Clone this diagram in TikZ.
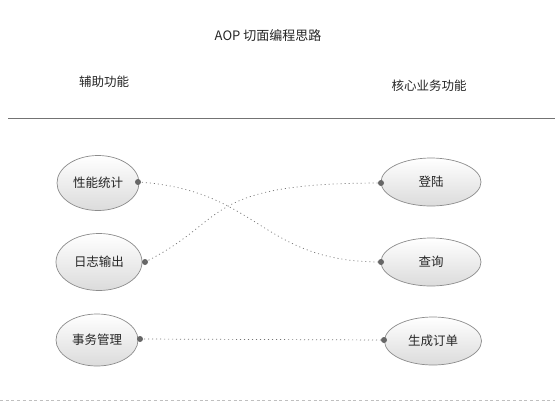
\documentclass[tikz,border=0pt]{standalone}
\usepackage{fontspec}
\newfontfamily\cjk{Noto Sans CJK SC}
\usetikzlibrary{shapes.geometric}
\begin{document}
\begin{tikzpicture}[x=1pt,y=-1pt,
  txt/.style={font=\cjk\fontsize{12.5}{14}\selectfont, text=black!85},
  uc/.style={ellipse, draw=black!45, line width=0.7pt, top color=white, bottom color=black!14, inner sep=0pt, font=\cjk\fontsize{12.5}{14}\selectfont, text=black!85},
  leftuc/.style={uc, minimum width=82pt, minimum height=55pt},
  rightuc/.style={uc, minimum width=100pt, minimum height=48pt},
  pin/.style={circle, fill=black!60, inner sep=0pt, minimum size=6pt},
  link/.style={draw=black!55, line width=0.7pt, dash pattern=on 1pt off 3pt}
]
\useasboundingbox (0,0) rectangle (555,408);
\fill[white] (0,0) rectangle (555,408);
\node[txt, font=\cjk\fontsize{13}{15}\selectfont] (title) at (268,36) {AOP 切面编程思路};
\node[txt] (hl) at (104,82) {辅助功能};
\node[txt] (hr) at (429,86) {核心业务功能};
\coordinate (sepl) at (8,118);
\coordinate (sepr) at (555,118);
\draw[black!55, line width=0.8pt] (sepl) -- (sepr);
\coordinate (botl) at (0,400);
\coordinate (botr) at (555,400);
\draw[black!25, line width=0.8pt, dash pattern=on 3pt off 2.7pt] (botl) -- (botr);

\node[leftuc] (a) at (98,183) {性能统计};
\node[leftuc, minimum width=86pt, minimum height=57pt] (b) at (99,262) {日志输出};
\node[leftuc, minimum height=52pt] (c) at (97,340) {事务管理};
\node[rightuc] (x) at (431,182) {登陆};
\node[rightuc] (y) at (431,262) {查询};
\node[rightuc, minimum width=97pt] (z) at (433,341) {生成订单};

\node[pin] (pa) at (138,182) {};
\node[pin] (pb) at (145,262) {};
\node[pin] (pc) at (140,339) {};
\node[pin] (px) at (381,183) {};
\node[pin] (py) at (381,262) {};
\node[pin] (pz) at (384,340) {};

\draw[link] (pa.center) .. controls (260,190) and (260,262) .. (py.center);
\draw[link] (pb.center) .. controls (230,220) and (200,183) .. (px.center);
\draw[link] (pc.center) -- (pz.center);
\end{tikzpicture}
\end{document}
